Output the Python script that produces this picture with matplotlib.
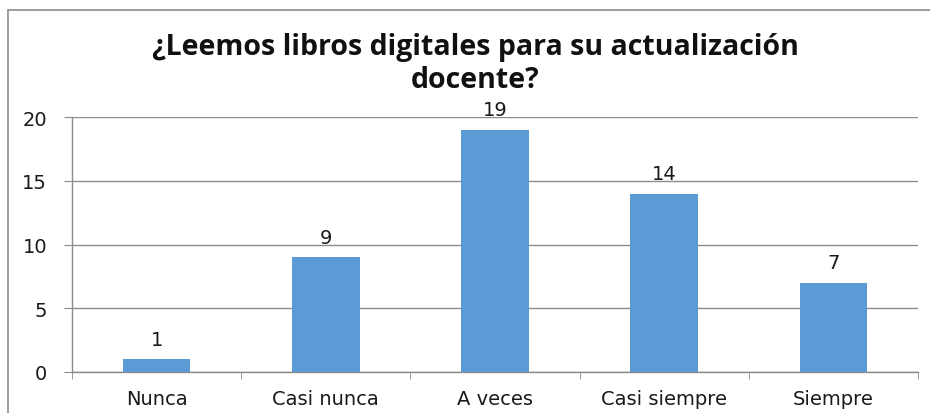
import numpy as np
import matplotlib.pyplot as plt
from matplotlib.patches import Rectangle

# Data
categories = ['Nunca', 'Casi nunca', 'A veces', 'Casi siempre', 'Siempre']
values = [1, 9, 19, 14, 7]
yticks = [0, 5, 10, 15, 20]

fig = plt.figure(figsize=(9.3, 4.14), dpi=100)
ax = fig.add_axes([72 / 930, 1 - 373 / 414, (918 - 72) / 930, (373 - 118) / 414])

# outer chart border (cut off at right and bottom like the screenshot)
fig.patches.append(Rectangle((8 / 930, -0.1), 1.2, 1 - 11 / 414 + 0.1,
                             transform=fig.transFigure, fill=False,
                             edgecolor='#8c8c8c', linewidth=1.2))

x = np.arange(len(categories))
bars = ax.bar(x, values, width=0.4, color='#5b9bd5', zorder=3)

for xi, v in zip(x, values):
    ax.text(xi, v + 1.55, str(v), ha='center', va='center',
            fontsize=14, family='DejaVu Sans', color='#1a1a1a')

ax.set_xlim(-0.5, len(categories) - 0.5)
ax.set_ylim(0, 20)
ax.set_yticks(yticks)
ax.set_xticks(x)
ax.set_xticklabels(categories)
ax.set_xticks(np.arange(-0.5, len(categories)), minor=True)

ax.grid(axis='y', color='#8c8c8c', linewidth=1, zorder=0)
for s in ['top', 'right']:
    ax.spines[s].set_visible(False)
for s in ['left', 'bottom']:
    ax.spines[s].set_color('#8c8c8c')
    ax.spines[s].set_linewidth(1)

ax.tick_params(axis='x', which='major', length=0, pad=12, labelsize=14,
               labelcolor='#1a1a1a')
ax.tick_params(axis='x', which='minor', length=5, color='#8c8c8c')
ax.tick_params(axis='y', length=6, color='#8c8c8c', pad=12, labelsize=14,
               labelcolor='#1a1a1a')

fig.text(475 / 930, 1 - 64 / 414,
         '¿Leemos libros digitales para su actualización\ndocente?',
         ha='center', va='center', fontsize=20.5, fontweight='bold',
         family='Open Sans', linespacing=1.2, color='#111111')

fig.savefig('out.png', dpi=100)
